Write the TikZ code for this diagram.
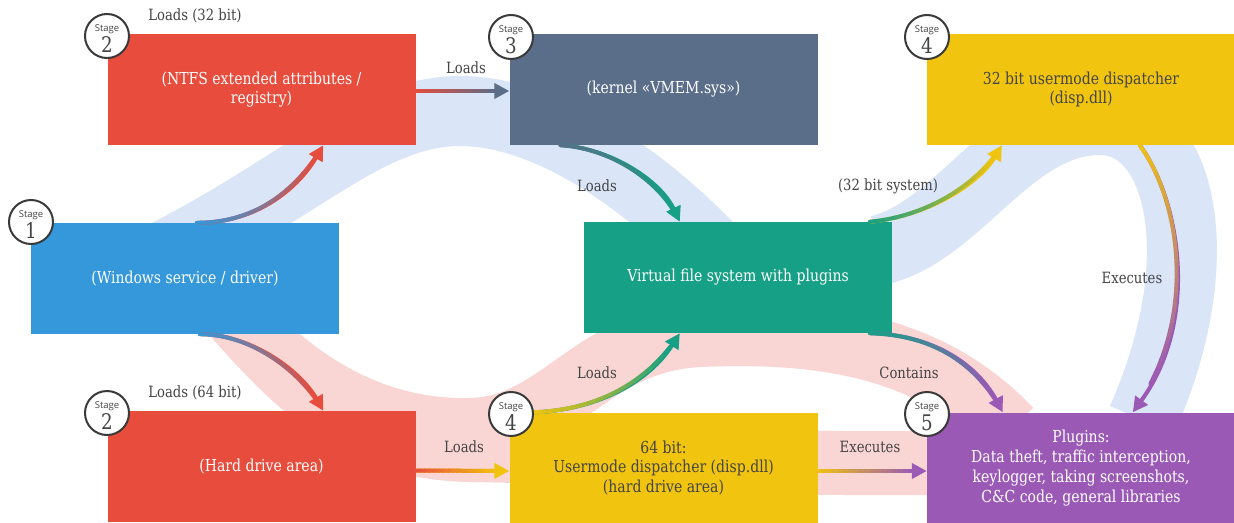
\documentclass[tikz,border=0pt]{standalone}
\usepackage{fontspec}
\setmainfont{DejaVu Serif}[FakeStretch=0.85]
\newfontfamily\stagefont{Open Sans}
\usetikzlibrary{arrows.meta,calc}
\definecolor{cblue}{HTML}{3498DB}
\definecolor{cred}{HTML}{E74C3C}
\definecolor{cslate}{HTML}{5A6E8A}
\definecolor{cyellow}{HTML}{F1C40F}
\definecolor{cgreen}{HTML}{16A085}
\definecolor{cpurple}{HTML}{9B59B6}
\definecolor{bandblue}{HTML}{DAE6F8}
\definecolor{bandpink}{HTML}{F9D6D4}
\definecolor{ctext}{HTML}{444444}
\definecolor{cring}{HTML}{3A3A3A}
\tikzset{
  box/.style={draw=none, minimum width=308pt, minimum height=111pt, align=center,
    inner sep=0pt, font=\fontsize{16.5}{19.8}\selectfont, text=white},
  lbl/.style={font=\fontsize{15.5}{18}\selectfont, text=ctext, inner sep=0pt},
  stagec/.style={circle, draw=cring, line width=2pt, fill=white, minimum size=44pt, inner sep=0pt},
  stagew/.style={anchor=base, inner sep=0pt, font=\stagefont\fontsize{9.5}{10}\selectfont, text=ctext},
  staged/.style={anchor=base, inner sep=0pt, font=\fontsize{21.5}{21.5}\selectfont, text=ctext},
  bandb/.style={draw=bandblue, line width=70pt},
  bandp/.style={draw=bandpink, line width=64pt},
}
% gradient arrow: start, c1, c2, end, colour at start, colour at end
\newcommand\gradarrow[6]{%
  \draw[line width=4pt, draw=#6, -{Triangle[length=15pt,width=15pt]}] #1 .. controls #2 and #3 .. #4;
  \path #1 .. controls #2 and #3 .. #4
    foreach \k [evaluate=\k as \t using \k/20] in {0,...,18}{coordinate[pos=\t] (gp\k)};
  \foreach \k [evaluate=\k as \kk using int(\k+1), evaluate=\k as \pc using int(100-(\k+0.5)*100/18)] in {0,...,17}{
    \draw[line width=4pt, line cap=round, draw=#5!\pc!#6] (gp\k) -- (gp\kk);
  }%
}
\begin{document}
\begin{tikzpicture}[x=1pt, y=-1pt]
\clip (0,0) rectangle (1234,522);
\fill[white] (0,0) rectangle (1234,522);

% background bands
\draw[bandb] (160,258) .. controls (300,188) and (370,111) .. (460,111)
  .. controls (540,111) and (640,170) .. (730,270);
\draw[bandb] (880,250) .. controls (960,230) and (1010,120) .. (1100,120)
  .. controls (1180,120) and (1215,255) .. (1142,420);
\draw[bandp] (230,310) .. controls (300,390) and (360,448) .. (470,450)
  .. controls (600,452) and (700,463) .. (850,463) -- (1000,463);
\draw[bandp] (230,310) .. controls (300,390) and (380,432) .. (470,430)
  .. controls (560,428) and (590,340) .. (700,335)
  .. controls (820,330) and (930,345) .. (1010,430);

% boxes
\node[box, fill=cblue]   (win)  at (185,278.5)  {(Windows service / driver)};
\node[box, fill=cred]    (ntfs) at (261.5,89.5) {(NTFS extended attributes /\\registry)};
\node[box, fill=cslate]  (kern) at (663.5,89.5) {(kernel «VMEM.sys»)};
\node[box, fill=cyellow, text=ctext] (d32) at (1081,89.5) {32 bit usermode dispatcher\\(disp.dll)};
\node[box, fill=cgreen]  (vfs)  at (738,277.5)  {Virtual file system with plugins};
\node[box, fill=cred]    (hdd)  at (261.5,466.5) {(Hard drive area)};
\node[box, fill=cyellow, text=ctext] (d64) at (663.5,468) {64 bit:\\Usermode dispatcher (disp.dll)\\(hard drive area)};
\node[box, fill=cpurple] (plug) at (1081,468) {Plugins:\\Data theft, traffic interception,\\keylogger, taking screenshots,\\C\&C code, general libraries};

% connectors
\coordinate (a1s) at ($(win.north west)+(166,0)$);
\coordinate (a1e) at ($(ntfs.south west)+(216,0)$);
\gradarrow{(a1s)}{(260,223)}{(300,185)}{(a1e)}{cblue}{cred}
\coordinate (a2s) at ($(win.south west)+(169,0)$);
\coordinate (a2e) at ($(hdd.north west)+(216,0)$);
\gradarrow{(a2s)}{(250,334)}{(300,370)}{(a2e)}{cblue}{cred}
\coordinate (a3s) at ($(ntfs.east)+(0,1.5)$);
\coordinate (a3e) at ($(kern.west)+(0,1.5)$);
\gradarrow{(a3s)}{($(a3s)!0.33!(a3e)$)}{($(a3s)!0.66!(a3e)$)}{(a3e)}{cred}{cslate}
\coordinate (a4s) at ($(kern.south west)+(51,0)$);
\coordinate (a4e) at ($(vfs.north west)+(96,0)$);
\gradarrow{(a4s)}{(610,148)}{(660,180)}{(a4e)}{cslate}{cgreen}
\coordinate (a5s) at ($(vfs.north west)+(286,0)$);
\coordinate (a5e) at ($(d32.south west)+(75,0)$);
\gradarrow{(a5s)}{(930,216)}{(980,182)}{(a5e)}{cgreen}{cyellow}
\coordinate (a6s) at ($(d32.south west)+(213,0)$);
\coordinate (a6e) at ($(plug.north west)+(206,0)$);
\gradarrow{(a6s)}{(1180,200)}{(1200,320)}{(a6e)}{cyellow}{cpurple}
\coordinate (a7s) at ($(vfs.south west)+(286,0)$);
\coordinate (a7e) at ($(plug.north west)+(76,0)$);
\gradarrow{(a7s)}{(940,335)}{(980,370)}{(a7e)}{cgreen}{cpurple}
\coordinate (a8s) at ($(hdd.east)+(0,4)$);
\coordinate (a8e) at ($(d64.west)+(0,3)$);
\gradarrow{(a8s)}{($(a8s)!0.33!(a8e)$)}{($(a8s)!0.66!(a8e)$)}{(a8e)}{cred}{cyellow}
\coordinate (a9s) at ($(d64.north west)+(24,0)$);
\coordinate (a9e) at ($(vfs.south west)+(96,0)$);
\gradarrow{(a9s)}{(600,410)}{(650,380)}{(a9e)}{cyellow}{cgreen}
\coordinate (a10s) at ($(d64.east)+(0,3)$);
\coordinate (a10e) at ($(plug.west)+(0,3)$);
\gradarrow{(a10s)}{($(a10s)!0.33!(a10e)$)}{($(a10s)!0.66!(a10e)$)}{(a10e)}{cyellow}{cpurple}

% connector labels
\node[lbl] (l1) at (195,16)  {Loads (32 bit)};
\node[lbl] (l2) at (466,68)  {Loads};
\node[lbl] (l3) at (597,186) {Loads};
\node[lbl] (l4) at (888,186) {(32 bit system)};
\node[lbl] (l5) at (1132,278) {Executes};
\node[lbl] (l6) at (195,393) {Loads (64 bit)};
\node[lbl] (l7) at (464,447) {Loads};
\node[lbl] (l8) at (597,373) {Loads};
\node[lbl] (l9) at (909,373) {Contains};
\node[lbl] (l10) at (870,447) {Executes};

% stage markers
\foreach \nm/\px/\py/\dg in {s1/31/222/1, s2/107/36/2, s3/511/37/3, s4/927/37/4,
    s5/107/413/2, s6/511/414/4, s7/927/414/5}{
  \node[stagec] (\nm) at (\px,\py) {};
  \node[stagew] (\nm w) at ($(\nm)+(0,-4.3)$) {Stage};
  \node[staged] (\nm d) at ($(\nm)+(0,16.3)$) {\dg};
}
\end{tikzpicture}
\end{document}
